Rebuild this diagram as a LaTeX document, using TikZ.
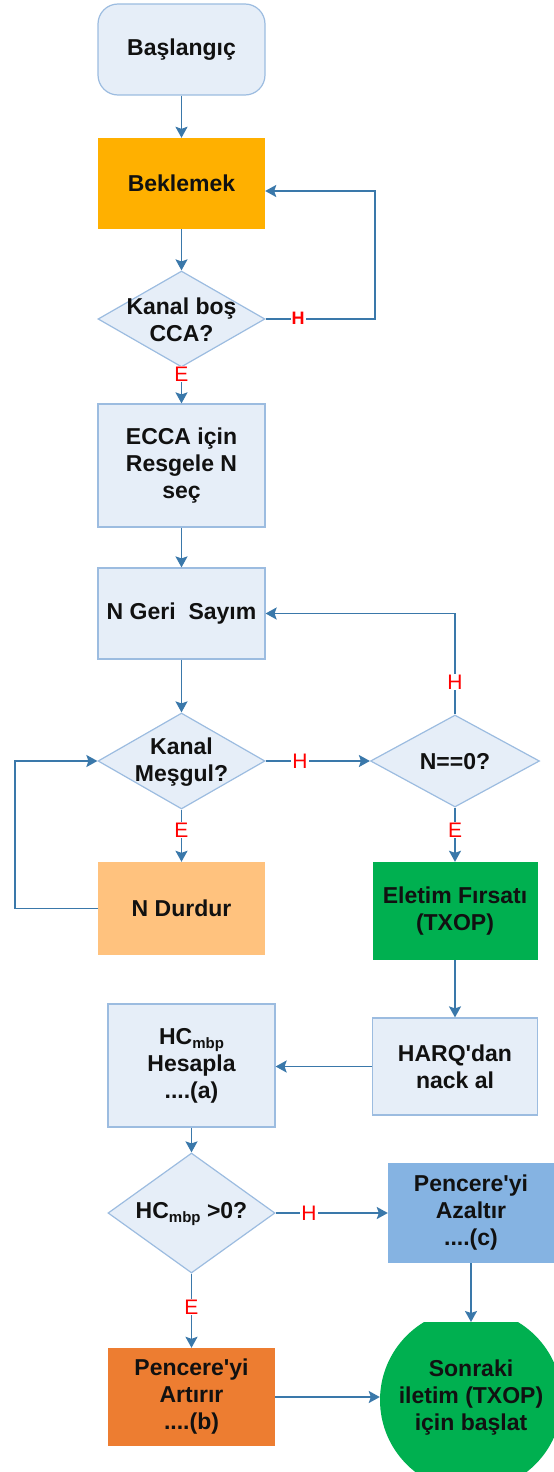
\documentclass[tikz,border=0pt]{standalone}
\usepackage{fontspec}
\setmainfont{Liberation Sans}
\newfontfamily\plainsans{Liberation Sans}
\usetikzlibrary{shapes.geometric,arrows.meta}
\definecolor{lineblue}{HTML}{3A78AA}
\definecolor{boxfill}{HTML}{E6EEF8}
\definecolor{boxedge}{HTML}{9CBCE0}
\definecolor{waitorange}{HTML}{FFB000}
\definecolor{pauseorange}{HTML}{FFC27E}
\definecolor{txopgreen}{HTML}{00B050}
\definecolor{incorange}{HTML}{ED7D31}
\definecolor{decblue}{HTML}{85B3E2}
\definecolor{inktext}{HTML}{111111}
\newcommand{\mbp}{\raisebox{-0.35ex}{\fontsize{15}{15}\selectfont mbp}}
\newcommand{\apos}{{\plainsans\char"27}}
\begin{document}
\begin{tikzpicture}[x=1pt,y=-1pt,
  txt/.style={font=\fontsize{23}{27}\selectfont\bfseries, text=inktext, align=center, inner sep=0pt},
  box/.style={rectangle, draw=boxedge, fill=boxfill, line width=1.2pt, inner sep=0pt,
              minimum width=167pt, txt},
  solid box/.style={rectangle, draw=none, inner sep=0pt, minimum width=167pt, txt},
  decision/.style={diamond, draw=boxedge, fill=boxfill, line width=1.2pt, inner sep=0pt},
  flow/.style={draw=lineblue, line width=1.7pt, -{Stealth[length=11pt,width=12pt,inset=2pt]}},
  yes/.style={font=\fontsize{21}{21}\selectfont, text=red, fill=white, inner sep=1pt},
  no/.style={font=\fontsize{21}{21}\selectfont, text=red, fill=white, inner sep=1pt},
]
\useasboundingbox (0,0) rectangle (554,1472);

% ---- process steps ----
\node[box, minimum height=91pt, rounded corners=20pt] (start) at (181.5,49.5) {Başlangıç};
\node[solid box, fill=waitorange, minimum height=91pt] (wait) at (181.5,183.5) {Beklemek};
\node[decision, minimum width=167pt, minimum height=96pt] (cca) at (181.5,319) {};
\node[txt] (ccat) at (181.5,320) {Kanal boş\\CCA?};
\node[box, minimum height=123pt] (ecca) at (181.5,465.5) {ECCA için\\Resgele N\\seç};
\node[box, minimum height=91pt] (count) at (181.5,613.5) {N Geri\ \ Sayım};
\node[decision, minimum width=167pt, minimum height=96pt] (busy) at (181.5,761) {};
\node[txt] (busyt) at (181.5,762) {Kanal\\Meşgul?};
\node[decision, minimum width=169pt, minimum height=92pt] (zero) at (455,761) {};
\node[txt] (zerot) at (455,762) {N==0?};
\node[solid box, fill=pauseorange, minimum height=93pt] (pause) at (181.5,908.5) {N Durdur};
\node[solid box, fill=txopgreen, minimum width=165pt, minimum height=98pt] (txop) at (455,911) {Eletim Fırsatı\\(TXOP)};
\node[box, minimum width=165pt, minimum height=97pt] (harq) at (455,1066.5) {HARQ\apos dan\\nack al};
\node[box, minimum height=123pt] (hc) at (191.5,1065.5) {HC\mbp\\Hesapla\\....(a)};
\node[decision, minimum width=167pt, minimum height=120pt] (hcd) at (191.5,1213) {};
\node[txt] (hcdt) at (191.5,1214) {HC\mbp\ >0?};
\node[solid box, fill=decblue, minimum width=166pt, minimum height=100pt] (dec) at (471,1213) {Pencere\apos yi\\Azaltır\\....(c)};
\node[solid box, fill=incorange, minimum height=98pt] (inc) at (191.5,1397) {Pencere\apos yi\\Artırır\\....(b)};
\begin{scope}
  \clip (0,1322) rectangle (554,1472);
  \node[circle, fill=txopgreen, minimum size=182pt, inner sep=0pt] (next) at (471,1400) {};
\end{scope}
\node[txt] (nextt) at (471,1398) {Sonraki\\iletim (TXOP)\\için başlat};
\coordinate (nexttop) at (471,1322);

% ---- connectors ----
\draw[flow] (start) -- (wait);
\draw[flow] (wait) -- (cca.north);
\coordinate (ccaturn) at (375,191);
\draw[flow] (cca.east) -| (ccaturn) -- (ccaturn -| wait.east);
\node[yes, font=\fontsize{18}{18}\selectfont\bfseries] (h1) at (298,318.5) {H};

\draw[flow] (cca.south) -- (ecca.north);
\node[no] (e1) at (181.5,374) {E};

\draw[flow] (ecca) -- (count);
\draw[flow] (count) -- (busy.north);

\draw[flow] (busy.east) -- (zero.west);
\node[yes] (h2) at (300,761) {H};

\draw[flow] (zero.north) |- (count.east);
\node[yes] (h3) at (455,682) {H};

\draw[flow] (busy.south) -- (pause.north);
\node[no] (e2) at (181.5,830) {E};
\coordinate (pauseturn) at (15,908.5);
\draw[flow] (pause.west) -- (pauseturn) |- (busy.west);

\draw[flow] (zero.south) -- (txop.north);
\node[no] (e3) at (455,830) {E};

\draw[flow] (txop) -- (harq);
\draw[flow] (harq.west) -- (harq.west -| hc.east);
\draw[flow] (hc) -- (hcd.north);

\draw[flow] (hcd.east) -- (dec.west);
\node[yes] (h4) at (309,1213) {H};

\draw[flow] (hcd.south) -- (inc.north);
\node[no] (e4) at (191.5,1307) {E};

\draw[flow] (dec.south) -- (nexttop);
\draw[flow] (inc.east) -- (inc.east -| next.west);
\end{tikzpicture}
\end{document}
